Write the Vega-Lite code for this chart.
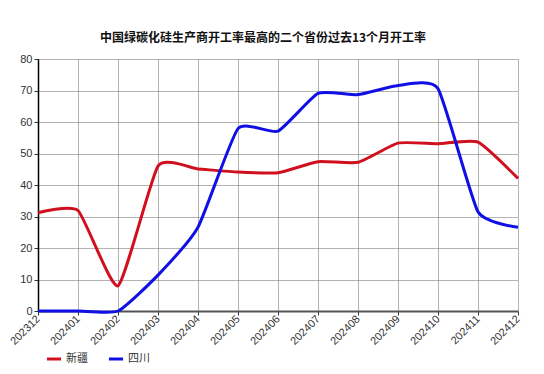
{
  "$schema": "https://vega.github.io/schema/vega-lite/v6.json",
  "width": 480,
  "height": 252,
  "autosize": {"type": "none"},
  "padding": {"left": 38, "top": 59, "right": 26, "bottom": 63},
  "background": "white",
  "title": {
    "text": "中国绿碳化硅生产商开工率最高的二个省份过去13个月开工率",
    "fontSize": 12,
    "fontWeight": "bold",
    "font": "Noto Sans CJK SC",
    "color": "#111111",
    "anchor": "middle",
    "dx": -15,
    "offset": 8
  },
  "config": {
    "view": {"stroke": null},
    "font": "Liberation Sans"
  },
  "data": {
    "values": [
      {"month": "202312", "province": "新疆", "rate": 31.2},
      {"month": "202401", "province": "新疆", "rate": 31.9},
      {"month": "202402", "province": "新疆", "rate": 8.0},
      {"month": "202403", "province": "新疆", "rate": 46.0},
      {"month": "202404", "province": "新疆", "rate": 45.1},
      {"month": "202405", "province": "新疆", "rate": 44.1},
      {"month": "202406", "province": "新疆", "rate": 43.9},
      {"month": "202407", "province": "新疆", "rate": 47.4},
      {"month": "202408", "province": "新疆", "rate": 47.2},
      {"month": "202409", "province": "新疆", "rate": 53.3},
      {"month": "202410", "province": "新疆", "rate": 53.1},
      {"month": "202411", "province": "新疆", "rate": 53.6},
      {"month": "202412", "province": "新疆", "rate": 42.1},
      {"month": "202312", "province": "四川", "rate": 0},
      {"month": "202401", "province": "四川", "rate": 0},
      {"month": "202402", "province": "四川", "rate": 0},
      {"month": "202403", "province": "四川", "rate": 11.4},
      {"month": "202404", "province": "四川", "rate": 26.6},
      {"month": "202405", "province": "四川", "rate": 57.9},
      {"month": "202406", "province": "四川", "rate": 57.1},
      {"month": "202407", "province": "四川", "rate": 69.1},
      {"month": "202408", "province": "四川", "rate": 68.7},
      {"month": "202409", "province": "四川", "rate": 71.6},
      {"month": "202410", "province": "四川", "rate": 70.6},
      {"month": "202411", "province": "四川", "rate": 31.5},
      {"month": "202412", "province": "四川", "rate": 26.6}
    ]
  },
  "mark": {"type": "line", "interpolate": "cardinal", "tension": 0.5, "strokeWidth": 3},
  "encoding": {
    "x": {
      "field": "month",
      "type": "ordinal",
      "scale": {"type": "point", "padding": 0},
      "axis": {
        "title": null,
        "labelAngle": -45,
        "labelAlign": "right",
        "labelBaseline": "middle",
        "labelFontSize": 11,
        "labelColor": "#333333",
        "labelPadding": 2,
        "domainColor": "#555555",
        "domainWidth": 2,
        "tickColor": "#333333",
        "tickSize": 4,
        "grid": true,
        "gridDash": [1, 1],
        "gridColor": "#666666",
        "gridWidth": 1
      }
    },
    "y": {
      "field": "rate",
      "type": "quantitative",
      "scale": {"domain": [0, 80], "nice": false},
      "axis": {
        "title": null,
        "values": [0, 10, 20, 30, 40, 50, 60, 70, 80],
        "labelFontSize": 11,
        "labelColor": "#333333",
        "labelPadding": 2,
        "domainColor": "#000000",
        "domainWidth": 1.5,
        "tickColor": "#333333",
        "tickSize": 4,
        "grid": true,
        "gridDash": [1, 1],
        "gridColor": "#666666",
        "gridWidth": 1
      }
    },
    "color": {
      "field": "province",
      "type": "nominal",
      "scale": {"domain": ["新疆", "四川"], "range": ["#d0101e", "#1010e6"]},
      "legend": {
        "title": null,
        "orient": "none",
        "legendX": 7,
        "legendY": 291,
        "direction": "horizontal",
        "symbolType": "stroke",
        "symbolStrokeWidth": 3,
        "symbolSize": 200,
        "labelOffset": 3,
        "labelFontSize": 11,
        "labelFont": "Noto Sans CJK SC",
        "labelColor": "#333333",
        "columnPadding": 14
      }
    }
  }
}
